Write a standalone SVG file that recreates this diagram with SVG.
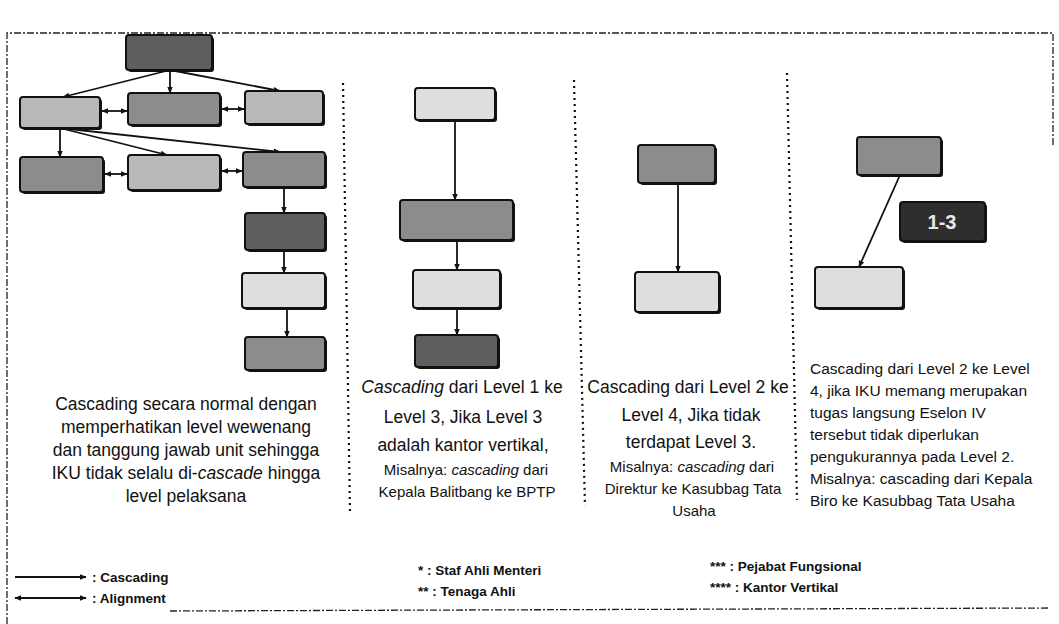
<svg xmlns="http://www.w3.org/2000/svg" width="1059" height="624" viewBox="0 0 1059 624">
<defs>
<marker id="ah" viewBox="0 0 10 10" refX="9" refY="5" markerWidth="7" markerHeight="7" orient="auto-start-reverse" markerUnits="userSpaceOnUse">
<path d="M0,1 L10,5 L0,9 z" fill="#111"/>
</marker>
<style>
.bg{fill:#fff}
.bd{fill:none;stroke:#222;stroke-width:1.3;stroke-dasharray:7 2 2 2}
.sep{fill:none;stroke:#111;stroke-width:2.2;stroke-dasharray:2 4}
.n rect.s{fill:#111}
.n rect.b{stroke:#111;stroke-width:2}
.c line{stroke:#111;stroke-width:1.8;marker-end:url(#ah)}
.c line.al{marker-start:url(#ah)}
.t{font-family:"Liberation Sans",Arial,sans-serif;fill:#111}
.big{font-size:17.5px;text-anchor:middle}
.mid{font-size:17.5px;text-anchor:middle}
.sm{font-size:15px;text-anchor:middle}
.c4{font-size:15.5px}
.lg{font-size:13.5px;font-weight:bold}
.dark{fill:#5e5e5e}.med{fill:#8c8c8c}.lt{fill:#b9b9b9}.vlt{fill:#dedede}.blk{fill:#2e2e2e}
</style>
</defs>
<rect class="bg" x="0" y="0" width="1059" height="624"/>
<path class="bd" d="M7,624 L7,33 L1053,33 L1053,145"/>
<path class="bd" d="M170,611 L1050,608"/>
<g id="separators">
<line class="sep" x1="343" y1="83" x2="350" y2="512"/>
<line class="sep" x1="574" y1="80" x2="585" y2="506"/>
<line class="sep" x1="787" y1="73" x2="797" y2="500"/>
</g>
<g id="connectors" class="c">
<line x1="170" y1="70" x2="63" y2="97"/>
<line x1="170" y1="70" x2="170" y2="93"/>
<line x1="170" y1="70" x2="280" y2="91"/>
<line x1="60" y1="128" x2="60" y2="157"/>
<line x1="60" y1="128" x2="167" y2="155"/>
<line x1="60" y1="128" x2="280" y2="152"/>
<line x1="284" y1="187" x2="284" y2="213"/>
<line x1="284" y1="250" x2="284" y2="273"/>
<line x1="287" y1="308" x2="287" y2="337"/>
<line class="al" x1="102" y1="111" x2="127" y2="111"/>
<line class="al" x1="222" y1="109" x2="244" y2="109"/>
<line class="al" x1="105" y1="174" x2="127" y2="174"/>
<line class="al" x1="222" y1="171" x2="242" y2="171"/>
<line x1="455" y1="120" x2="455" y2="200"/>
<line x1="457" y1="240" x2="457" y2="270"/>
<line x1="457" y1="308" x2="457" y2="335"/>
<line x1="678" y1="183" x2="678" y2="272"/>
<line x1="900" y1="175" x2="859" y2="267"/>
</g>
<g id="n-top" class="n"><rect class="s" x="128" y="37" width="86" height="35" rx="3"/><rect class="b dark" x="126" y="35" width="86" height="35" rx="3"/></g>
<g id="n-a" class="n"><rect class="s" x="22" y="99" width="80" height="31" rx="3"/><rect class="b lt" x="20" y="97" width="80" height="31" rx="3"/></g>
<g id="n-b" class="n"><rect class="s" x="130" y="95" width="92" height="32" rx="3"/><rect class="b med" x="128" y="93" width="92" height="32" rx="3"/></g>
<g id="n-c" class="n"><rect class="s" x="247" y="93" width="78" height="33" rx="3"/><rect class="b lt" x="245" y="91" width="78" height="33" rx="3"/></g>
<g id="n-d" class="n"><rect class="s" x="22" y="159" width="83" height="35" rx="3"/><rect class="b med" x="20" y="157" width="83" height="35" rx="3"/></g>
<g id="n-e" class="n"><rect class="s" x="130" y="157" width="92" height="35" rx="3"/><rect class="b lt" x="128" y="155" width="92" height="35" rx="3"/></g>
<g id="n-f" class="n"><rect class="s" x="245" y="154" width="82" height="35" rx="3"/><rect class="b med" x="243" y="152" width="82" height="35" rx="3"/></g>
<g id="n-g" class="n"><rect class="s" x="247" y="215" width="80" height="37" rx="3"/><rect class="b dark" x="245" y="213" width="80" height="37" rx="3"/></g>
<g id="n-h" class="n"><rect class="s" x="244" y="275" width="83" height="35" rx="3"/><rect class="b vlt" x="242" y="273" width="83" height="35" rx="3"/></g>
<g id="n-i" class="n"><rect class="s" x="247" y="339" width="80" height="33" rx="3"/><rect class="b med" x="245" y="337" width="80" height="33" rx="3"/></g>
<g id="n-j" class="n"><rect class="s" x="417" y="90" width="80" height="32" rx="3"/><rect class="b vlt" x="415" y="88" width="80" height="32" rx="3"/></g>
<g id="n-k" class="n"><rect class="s" x="402" y="202" width="113" height="40" rx="3"/><rect class="b med" x="400" y="200" width="113" height="40" rx="3"/></g>
<g id="n-l" class="n"><rect class="s" x="415" y="272" width="87" height="38" rx="3"/><rect class="b vlt" x="413" y="270" width="87" height="38" rx="3"/></g>
<g id="n-m" class="n"><rect class="s" x="417" y="337" width="83" height="32" rx="3"/><rect class="b dark" x="415" y="335" width="83" height="32" rx="3"/></g>
<g id="n-n" class="n"><rect class="s" x="640" y="147" width="77" height="38" rx="3"/><rect class="b med" x="638" y="145" width="77" height="38" rx="3"/></g>
<g id="n-o" class="n"><rect class="s" x="637" y="274" width="84" height="40" rx="3"/><rect class="b vlt" x="635" y="272" width="84" height="40" rx="3"/></g>
<g id="n-p" class="n"><rect class="s" x="859" y="139" width="84" height="38" rx="3"/><rect class="b med" x="857" y="137" width="84" height="38" rx="3"/></g>
<g id="n-q" class="n"><rect class="s" x="902" y="204" width="85" height="39" rx="3"/><rect class="b blk" x="900" y="202" width="85" height="39" rx="3"/><text class="t" x="942" y="229" text-anchor="middle" font-size="20" font-weight="bold" fill="#e8e8e8" style="fill:#e8e8e8">1-3</text></g>
<g id="n-r" class="n"><rect class="s" x="817" y="269" width="88" height="41" rx="3"/><rect class="b vlt" x="815" y="267" width="88" height="41" rx="3"/></g>
<g id="caption1" class="t big">
<text x="186" y="410">Cascading secara normal dengan</text>
<text x="186" y="433">memperhatikan level wewenang</text>
<text x="186" y="456">dan tanggung jawab unit sehingga</text>
<text x="186" y="479">IKU tidak selalu di-<tspan font-style="italic">cascade</tspan> hingga</text>
<text x="186" y="502">level pelaksana</text>
</g>
<g id="caption2" class="t">
<text class="mid" x="462" y="393"><tspan font-style="italic">Cascading</tspan> dari Level 1 ke</text>
<text class="mid" x="463" y="423">Level 3, Jika Level 3</text>
<text class="mid" x="463" y="451">adalah kantor vertikal,</text>
<text class="sm" x="466" y="475">Misalnya: <tspan font-style="italic">cascading</tspan> dari</text>
<text class="sm" x="467" y="497">Kepala Balitbang ke BPTP</text>
</g>
<g id="caption3" class="t">
<text class="mid" x="688" y="393">Cascading dari Level 2 ke</text>
<text class="mid" x="691" y="421">Level 4, Jika tidak</text>
<text class="mid" x="691" y="448">terdapat Level 3.</text>
<text class="sm" x="692" y="472">Misalnya: <tspan font-style="italic">cascading</tspan> dari</text>
<text class="sm" x="693" y="494">Direktur ke Kasubbag Tata</text>
<text class="sm" x="694" y="516">Usaha</text>
</g>
<g id="caption4" class="t c4">
<text x="810" y="374">Cascading dari Level 2 ke Level</text>
<text x="810" y="396">4, jika IKU memang merupakan</text>
<text x="810" y="418">tugas langsung Eselon IV</text>
<text x="810" y="440">tersebut tidak diperlukan</text>
<text x="810" y="462">pengukurannya pada Level 2.</text>
<text x="810" y="484">Misalnya: cascading dari Kepala</text>
<text x="810" y="506">Biro ke Kasubbag Tata Usaha</text>
</g>
<g id="legend">
<g class="c"><line x1="15" y1="577" x2="86" y2="577"/><line class="al" x1="15" y1="598" x2="86" y2="598"/></g>
<text class="t lg" x="92" y="582">: Cascading</text>
<text class="t lg" x="92" y="603">: Alignment</text>
<text class="t lg" x="418" y="575">*  : Staf Ahli Menteri</text>
<text class="t lg" x="418" y="596">** : Tenaga Ahli</text>
<text class="t lg" x="710" y="571">***   :  Pejabat Fungsional</text>
<text class="t lg" x="710" y="592">****  :  Kantor Vertikal</text>
</g>
</svg>
